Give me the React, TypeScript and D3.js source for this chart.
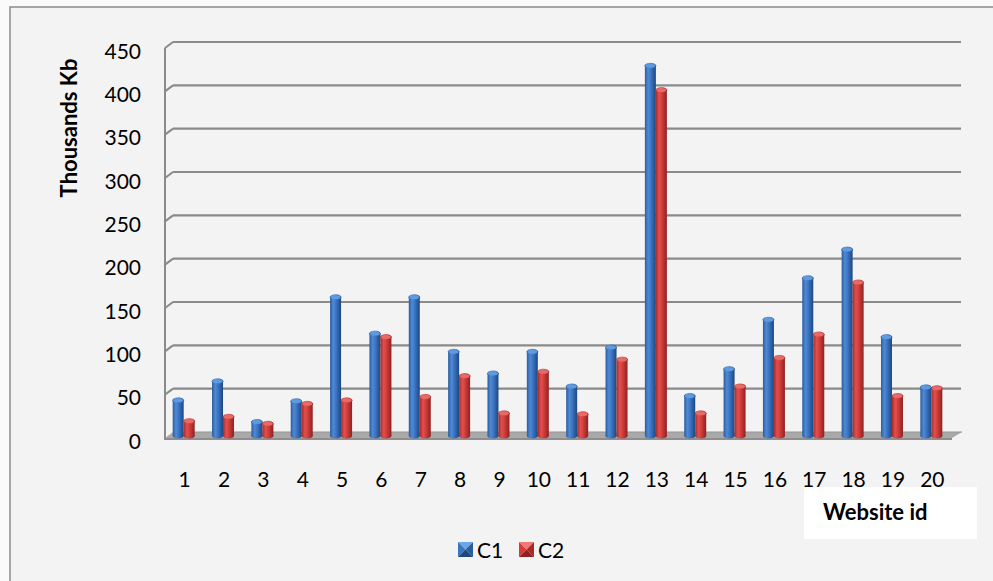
import React from "react";
import * as d3 from "d3";

const categories = ["1","2","3","4","5","6","7","8","9","10","11","12","13","14","15","16","17","18","19","20"];
const c1Values = [44, 66, 19, 43, 163, 121, 163, 100, 75, 100, 60, 105, 430, 49, 80, 137, 185, 218, 117, 59];
const c2Values = [20, 25, 17, 40, 44, 117, 48, 72, 29, 77, 28, 91, 402, 29, 60, 93, 120, 180, 49, 58];
const yTicks = [0, 50, 100, 150, 200, 250, 300, 350, 400, 450];
const seriesNames = ["C1", "C2"];
const yTitle = "Thousands Kb";
const xTitle = "Website id";

const W = 993, H = 581;
const FONT = "Lato, 'Open Sans', sans-serif";

export default function App() {
  const x = d3.scaleBand<string>().domain(categories).range([165, 952]);
  const yBack = d3.scaleLinear().domain([0, 450]).range([432, 42]);
  const DX = 8, DY = 6;
  const yBar = (v: number) => yBack(v) + 4;
  const barW = 11;
  const ry = 2.5;

  const series = [
    { name: seriesNames[0], values: c1Values, grad: "gBlue", cap: "#5d9ae0", off: -12 },
    { name: seriesNames[1], values: c2Values, grad: "gRed", cap: "#e66a66", off: -1 },
  ];

  const floorBackY = yBack(0);
  const floorFrontY = floorBackY + DY;
  const x0 = 165, x1 = 952;

  return (
    <div style={{ position: "absolute", left: 0, top: 0 }}>
      <svg width={W} height={H} style={{ display: "block" }}>
        <defs>
          <linearGradient id="gBlue" x1="0" x2="1" y1="0" y2="0">
            <stop offset="0" stopColor="#2a5c9e" />
            <stop offset="0.3" stopColor="#4f8ad6" />
            <stop offset="0.55" stopColor="#3b74c2" />
            <stop offset="1" stopColor="#1d477f" />
          </linearGradient>
          <linearGradient id="gRed" x1="0" x2="1" y1="0" y2="0">
            <stop offset="0" stopColor="#a82b2a" />
            <stop offset="0.3" stopColor="#e2504d" />
            <stop offset="0.55" stopColor="#d03d3a" />
            <stop offset="1" stopColor="#8e2221" />
          </linearGradient>
        </defs>
        <rect x={0} y={0} width={W} height={H} fill="#fafafa" />
        <rect x={10} y={7} width={W + 20} height={H + 20} fill="#f3f3f3" stroke="#8a8a8a" strokeWidth={1.5} />

        {yTicks.map((t) => {
          const yb = yBack(t);
          if (t === 0) return null;
          return (
            <g key={"g" + t}>
              <line x1={x0 + DX} x2={x1 + DX + 1} y1={yb} y2={yb} stroke="#8a8a8a" strokeWidth={2.2} />
              <line x1={x0} x2={x0 + DX} y1={yb + DY} y2={yb} stroke="#8a8a8a" strokeWidth={2} />
            </g>
          );
        })}

        <path
          d={`M${x0},${floorFrontY} L${x0 + DX},${floorBackY} L${x1 + DX + 2},${floorBackY} L${x1},${floorFrontY} Z`}
          fill="#a9a9a9"
        />
        <path
          d={`M${x0},${floorFrontY} L${x1},${floorFrontY} L${x1},${floorFrontY + 2} L${x0},${floorFrontY + 2} Z`}
          fill="#8e8e8e"
        />
        <line x1={x0 + DX} x2={x1 + DX + 2} y1={floorBackY} y2={floorBackY} stroke="#959595" strokeWidth={1} />

        <line x1={x0} x2={x0} y1={yBack(450) + DY} y2={floorFrontY + 2} stroke="#8a8a8a" strokeWidth={2} />

        {categories.map((c, i) => {
          const cx = (x(c) as number) + x.bandwidth() / 2;
          return (
            <g key={"b" + c}>
              {series.map((s) => {
                const v = s.values[i];
                const left = cx + s.off;
                const top = yBar(v);
                const base = yBar(0);
                return (
                  <g key={s.name}>
                    <ellipse cx={left + barW / 2} cy={base} rx={barW / 2} ry={ry} fill={`url(#${s.grad})`} />
                    <rect x={left} y={top + ry} width={barW} height={Math.max(0, base - top - ry)} fill={`url(#${s.grad})`} />
                    <ellipse cx={left + barW / 2} cy={top + ry} rx={barW / 2} ry={ry} fill={s.cap} stroke={`url(#${s.grad})`} strokeWidth={0.8} />
                  </g>
                );
              })}
            </g>
          );
        })}

        {yTicks.map((t) => (
          <text key={"t" + t} x={141} y={yBack(t) + 8} textAnchor="end" dominantBaseline="central"
            fontFamily={FONT} fontSize={21} fill="#000">{t}</text>
        ))}

        {categories.map((c) => (
          <text key={"x" + c} x={(x(c) as number) + x.bandwidth() / 2} y={478} textAnchor="middle" dominantBaseline="central"
            fontFamily={FONT} fontSize={21} fill="#000">{c}</text>
        ))}

        <text transform="translate(77,128) rotate(-90)" textAnchor="middle" fontFamily={FONT} fontWeight="bold" fontSize={22} fill="#000">{yTitle}</text>

        <rect x={804} y={487} width={173} height={52} fill="#ffffff" />
        <text x={823} y={520} fontFamily={FONT} fontWeight="bold" fontSize={22} fill="#000">{xTitle}</text>

        {series.map((s, i) => {
          const lx = i === 0 ? 458 : 519;
          const ly = 542;
          const sz = 15;
          const cols = i === 0 ? ["#6aa6ea", "#3b74c2", "#2a5c9e", "#1d477f"] : ["#ee7a76", "#d03d3a", "#a82b2a", "#8e2221"];
          const cxm = lx + sz / 2, cym = ly + sz / 2;
          return (
            <g key={"l" + s.name}>
              <path d={`M${lx},${ly} L${lx + sz},${ly} L${cxm},${cym} Z`} fill={cols[0]} />
              <path d={`M${lx},${ly} L${lx},${ly + sz} L${cxm},${cym} Z`} fill={cols[1]} />
              <path d={`M${lx + sz},${ly} L${lx + sz},${ly + sz} L${cxm},${cym} Z`} fill={cols[2]} />
              <path d={`M${lx},${ly + sz} L${lx + sz},${ly + sz} L${cxm},${cym} Z`} fill={cols[3]} />
              <text x={lx + sz + 4} y={ly + sz / 2} dominantBaseline="central" fontFamily={FONT} fontSize={21} fill="#000">{s.name}</text>
            </g>
          );
        })}
      </svg>
    </div>
  );
}
